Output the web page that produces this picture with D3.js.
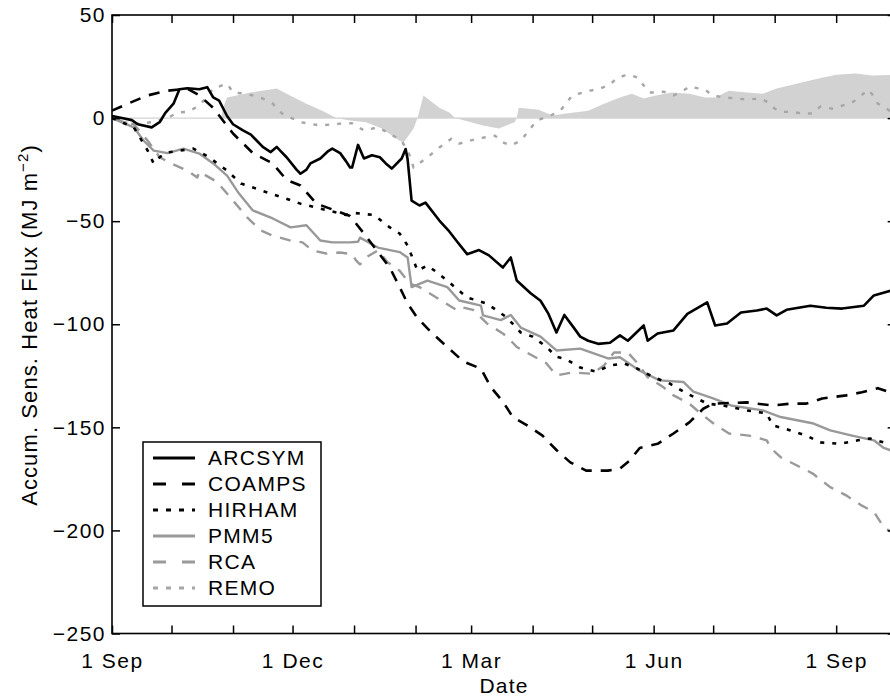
<!DOCTYPE html>
<html>
<head>
<meta charset="utf-8">
<script src="https://cdn.jsdelivr.net/npm/d3@7"></script>
<style>
  body { margin: 0; background: #fff; }
  svg { display: block; font-family: "Liberation Sans", Arial, Helvetica, sans-serif; }
</style>
</head>
<body>
<script>
    // data: [days since 1 Sep 1997, accumulated flux in MJ m^-2]
    const startDate = new Date(1997, 8, 1);
    const endDate = new Date(1998, 9, 1);

    const seriesNames = ["ARCSYM", "COAMPS", "HIRHAM", "PMM5", "RCA", "REMO"];

    const arcsym = [[0,1],[5,0],[10,-1],[13,-3],[20,-4.5],[24,-2],[27,2.7],[31,7],[34,14],[38,14.5],[44,14],[48,15],[51,10],[54,8.5],
        [58,1],[61,-3],[66,-6],[70,-8],[73,-11],[76,-14],[80,-16.5],[83,-14],[85,-16],[88,-19],[93,-25],[95,-27],[98,-25],[100,-22],
        [105,-19.6],[109,-16],[111,-14.8],[115,-17],[118,-21],[120,-24],[121,-24],[124,-13],[127,-19.6],[131,-18],[135,-19],[138,-22],
        [141,-24.5],[146,-19.6],[148,-15],[149,-20],[151,-40],[155,-42.4],[158,-41],[165,-49.7],[170,-55],[174,-60],[179,-66],[185,-64],
        [190,-66.6],[197,-72.5],[201,-67.6],[204,-78.8],[211,-85],[216,-88.6],[220,-95],[224,-104],[228,-95.5],[233,-102],[236,-106],
        [240,-108],[245,-109.5],[251,-109],[256,-105.4],[260,-108],[268,-100.6],[270,-108],[275,-104.5],[283,-103],[290,-95],[300,-89.4],
        [304,-100.6],[310,-99.6],[317,-94.3],[325,-93.3],[330,-92.4],[335,-95.7],[340,-93],[352,-91],[360,-92],[368,-92.4],[379,-91],
        [384,-86],[395,-83]];

    const coamps = [[0,3.6],[8,7],[18,11],[28,13.3],[38,14.3],[44,11],[51,5],[61,-7.5],[71,-17],[81,-22],[88,-30],[95,-32.7],[103,-41.5],
        [113,-45],[120,-47.5],[127,-56],[140,-72.5],[145,-82],[149,-90],[154,-97],[161,-104],[169,-111],[177,-118],[186,-121.6],
        [191,-130.6],[197,-137.5],[202,-145],[210,-149.5],[217,-154],[224,-161],[231,-167],[239,-171],[250,-171],[256,-170],[261,-166],
        [266,-160],[275,-158],[283,-153],[291,-147.6],[298,-141],[303,-138.5],[320,-137.9],[333,-139.4],[342,-138.5],[350,-138.5],
        [358,-136],[370,-134.5],[378,-133],[386,-131],[395,-134]];

    const hirham = [[0,0],[11,-4.5],[18,-15.8],[21,-22],[24,-19],[28,-16.7],[34,-15.8],[41,-14.8],[49,-19],[53,-22],[58,-25.5],
        [65,-31.7],[75,-35],[86,-38.5],[95,-41.5],[105,-43.9],[118,-47],[122,-46],[132,-47],[140,-53],[145,-56],[149,-61.8],[154,-74],
        [159,-71.5],[164,-75],[170,-79.7],[179,-87],[184,-88.5],[189,-90],[199,-96.7],[206,-104],[212,-106],[219,-111],[224,-115.8],
        [229,-117],[236,-121],[244,-123],[251,-120],[258,-119],[265,-121.6],[273,-125.7],[281,-128.7],[290,-133.7],[300,-138.5],
        [308,-139.4],[320,-141.8],[330,-143.2],[333,-149],[342,-151.5],[350,-154],[357,-157.3],[367,-158],[376,-156.3],[382,-155.4],
        [389,-157.3],[395,-158]];

    const pmm5 = [[0,0],[11,-4.5],[16,-11],[21,-15.8],[28,-17],[36,-14.8],[44,-17.2],[51,-22],[58,-27.9],[64,-36.6],[71,-44.8],
        [81,-48.7],[90,-53],[98,-52],[105,-59.4],[111,-60.3],[120,-60.3],[124,-60],[125,-58],[134,-62.8],[145,-65],[149,-67.6],[151,-82],
        [159,-78.8],[169,-82],[175,-88.5],[186,-91],[187,-95.7],[196,-98],[201,-95.5],[206,-101.6],[216,-106],[224,-112.7],[236,-111.8],
        [250,-116.6],[256,-116],[266,-122.5],[276,-127.2],[288,-128],[293,-132.7],[303,-136],[312,-139.4],[328,-141.8],[337,-145],
        [353,-148],[362,-151.5],[373,-154],[384,-156.3],[389,-160],[395,-162]];

    const rca = [[0,0],[11,-3],[18,-11],[24,-19],[29,-21.6],[38,-25.5],[43,-28.8],[44,-26],[53,-31],[61,-40],[68,-48],[75,-54.5],
        [81,-57],[90,-59.4],[96,-60.3],[101,-64.2],[108,-65.7],[115,-65.2],[121,-66],[123,-69],[125,-71],[128,-67.6],[134,-64.2],
        [139,-70],[145,-74],[150,-80.2],[155,-82],[174,-93.3],[177,-91.9],[182,-93],[189,-99.6],[197,-104.5],[199,-106],[204,-111],
        [219,-119],[224,-124.8],[232,-123.4],[242,-124],[248,-120],[253,-113.7],[260,-113.7],[265,-119],[270,-125.7],[278,-130.6],
        [283,-134.5],[291,-138.5],[296,-142.7],[303,-148],[311,-153],[321,-154],[330,-156.3],[332,-160],[337,-164.5],[345,-168.4],
        [353,-172.3],[362,-179],[370,-183],[378,-188],[384,-191],[389,-198.5],[395,-202]];

    const remo = [[0,0],[10,-3],[20,-2],[28,0],[33,2.7],[38,3],[44,6],[51,14.3],[58,16.7],[61,12.4],[68,11.8],[76,9.5],[81,7],[86,2],
        [95,-2],[105,-3.6],[115,-2.7],[121,-2.5],[127,-6],[134,-4.5],[139,-7],[146,-11],[150,-18],[152,-24],[159,-19],[165,-14.3],
        [171,-10],[175,-12.4],[184,-10],[193,-8.5],[197,-11.8],[201,-13.3],[206,-11],[211,-5],[214,-1.2],[221,1.2],[226,3.6],[232,11],
        [241,13.3],[246,14.3],[251,16.2],[254,19],[258,20.6],[261,21],[265,19.6],[268,15.8],[271,12.4],[275,12.4],[278,12.8],[283,11],
        [288,13.3],[291,15.3],[295,14.5],[299,13.8],[302,11.4],[306,10.4],[310,9.9],[315,9.5],[320,9],[327,9.5],[331,7.5],[334,4.6],
        [338,3],[343,3],[348,2.2],[353,2.2],[357,5.6],[363,4.6],[368,6],[373,7.5],[377,10.4],[381,13.8],[383,11.8],[386,7],[390,5],
        [395,1]];

    // shaded grey area
    const shade = [[0,0],[55,0],[56,5],[58,10],[70,12.4],[83,14.3],[88,11.8],[98,7],[106,3.6],[113,0],[120,-1.2],[128,-2],[136,-5],
        [141,-8.5],[145,-11],[147,-11.8],[152,-5],[154,0],[157,11],[165,5],[170,2.7],[173,0],[187,-3.6],[195,-5],[203,-2],[204,0],
        [205,5],[215,4],[222,1.2],[229,2.2],[240,3.6],[248,7],[256,10],[262,11.8],[268,9.5],[274,11],[282,12.4],[291,11.8],[299,10],
        [304,10],[311,13.3],[320,12.4],[328,11.8],[335,14.3],[345,16.7],[355,19],[365,21],[375,21.6],[383,20.6],[395,21]];

    const yTicks = [-250, -200, -150, -100, -50, 0, 50];
    const labelMonths = [8, 11, 2, 5]; // Sep, Dec, Mar, Jun

    const seriesData = [arcsym, coamps, hirham, pmm5, rca, remo];
    const styles = [
        { color: "#000", width: 2.6, dash: null },
        { color: "#000", width: 2.6, dash: "11,9" },
        { color: "#000", width: 2.6, dash: "4,8" },
        { color: "#999", width: 2.4, dash: null },
        { color: "#9a9a9a", width: 2.4, dash: "11,9" },
        { color: "#a6a6a6", width: 2.4, dash: "4,8" }
    ];

    const width = 890, height = 700;
    const plotLeft = 112, plotTop = 15, plotBottom = 633.5;
    const plotRight = plotLeft + 395 * 1.984;

    const svg = d3.select("body").append("svg")
        .attr("width", width)
        .attr("height", height);

    const x = d3.scaleTime().domain([startDate, endDate]).range([plotLeft, plotRight]);
    const y = d3.scaleLinear().domain([-250, 50]).range([plotBottom, plotTop]);
    const toDate = d => d3.timeDay.offset(startDate, d);

    svg.append("defs").append("clipPath").attr("id", "plot")
        .append("rect").attr("x", plotLeft).attr("y", plotTop)
        .attr("width", plotRight - plotLeft).attr("height", plotBottom - plotTop);

    const plot = svg.append("g").attr("clip-path", "url(#plot)");

    // zero line + shaded area
    plot.append("line")
        .attr("x1", plotLeft).attr("x2", plotRight)
        .attr("y1", y(0)).attr("y2", y(0))
        .attr("stroke", "#c8c8c8").attr("stroke-width", 1);

    plot.append("path")
        .datum(shade)
        .attr("d", d3.area().x(d => x(toDate(d[0]))).y0(y(0)).y1(d => y(d[1])))
        .attr("fill", "#d2d2d2");

    const line = d3.line().x(d => x(toDate(d[0]))).y(d => y(d[1]));

    // draw grey series first, black on top
    [5, 4, 3, 2, 1, 0].forEach(i => {
        plot.append("path")
            .datum(seriesData[i])
            .attr("d", line)
            .attr("fill", "none")
            .attr("stroke", styles[i].color)
            .attr("stroke-width", styles[i].width)
            .attr("stroke-dasharray", styles[i].dash)
            .attr("stroke-linejoin", "round");
    });

    // axes, ticks point inward
    const tickFont = g => g.selectAll("text")
        .attr("font-size", "21px")
        .attr("letter-spacing", "1.5px")
        .attr("fill", "#000")
        .attr("font-family", "'Liberation Sans', Arial, sans-serif");

    const months = d3.timeMonth.range(startDate, d3.timeDay.offset(endDate, 1));

    svg.append("g")
        .attr("transform", `translate(0,${plotBottom})`)
        .call(d3.axisBottom(x).tickValues(months).tickSize(-8).tickSizeOuter(0).tickPadding(20)
            .tickFormat(d => labelMonths.includes(d.getMonth()) ? d3.timeFormat("%-d %b")(d) : ""))
        .call(tickFont)
        .call(g => g.select(".domain").remove())
        .call(g => g.selectAll("line").attr("stroke-width", 1.5));

    svg.append("g")
        .attr("transform", `translate(0,${plotTop})`)
        .call(d3.axisTop(x).tickValues(months).tickSize(-8).tickSizeOuter(0).tickFormat(""))
        .call(g => g.select(".domain").remove())
        .call(g => g.selectAll("line").attr("stroke-width", 1.5));

    svg.append("g")
        .attr("transform", `translate(${plotLeft},0)`)
        .call(d3.axisLeft(y).tickValues(yTicks).tickSize(-8).tickSizeOuter(0).tickPadding(6))
        .call(tickFont)
        .call(g => g.select(".domain").remove())
        .call(g => g.selectAll("line").attr("stroke-width", 1.5));

    svg.append("g")
        .attr("transform", `translate(${plotRight},0)`)
        .call(d3.axisRight(y).tickValues(yTicks).tickSize(-8).tickSizeOuter(0).tickFormat(""))
        .call(g => g.select(".domain").remove())
        .call(g => g.selectAll("line").attr("stroke-width", 1.5));

    // frame
    svg.append("rect")
        .attr("x", plotLeft).attr("y", plotTop)
        .attr("width", plotRight - plotLeft).attr("height", plotBottom - plotTop)
        .attr("fill", "none")
        .attr("stroke", "#000")
        .attr("stroke-width", 1.6);

    // axis titles
    svg.append("text")
        .attr("x", 504).attr("y", 693)
        .attr("text-anchor", "middle")
        .attr("font-size", "21px")
        .attr("letter-spacing", "1.2px")
        .text("Date");

    const ylab = svg.append("text")
        .attr("transform", "translate(37,325) rotate(-90)")
        .attr("text-anchor", "middle")
        .attr("font-size", "22px")
        .attr("letter-spacing", "1.1px");
    ylab.append("tspan").text("Accum. Sens. Heat Flux (MJ m");
    ylab.append("tspan").attr("font-size", "15px").attr("dy", "-9").text("\u22122");
    ylab.append("tspan").attr("dy", "9").text(")");

    // legend
    const legend = svg.append("g");
    legend.append("rect")
        .attr("x", 143).attr("y", 442)
        .attr("width", 178).attr("height", 164)
        .attr("fill", "#fff")
        .attr("stroke", "#000")
        .attr("stroke-width", 1.5);

    seriesNames.forEach((name, i) => {
        const ly = 458 + i * 26;
        legend.append("line")
            .attr("x1", 153).attr("x2", 195)
            .attr("y1", ly).attr("y2", ly)
            .attr("stroke", styles[i].color)
            .attr("stroke-width", styles[i].width + 0.4)
            .attr("stroke-dasharray", styles[i].dash ? (styles[i].dash === "4,8" ? "5,8" : "13,16") : null);
        legend.append("text")
            .attr("x", 208).attr("y", ly)
            .attr("dy", "0.35em")
            .attr("font-size", "21px")
            .attr("letter-spacing", "1.3px")
            .text(name);
    });
</script>
</body>
</html>
